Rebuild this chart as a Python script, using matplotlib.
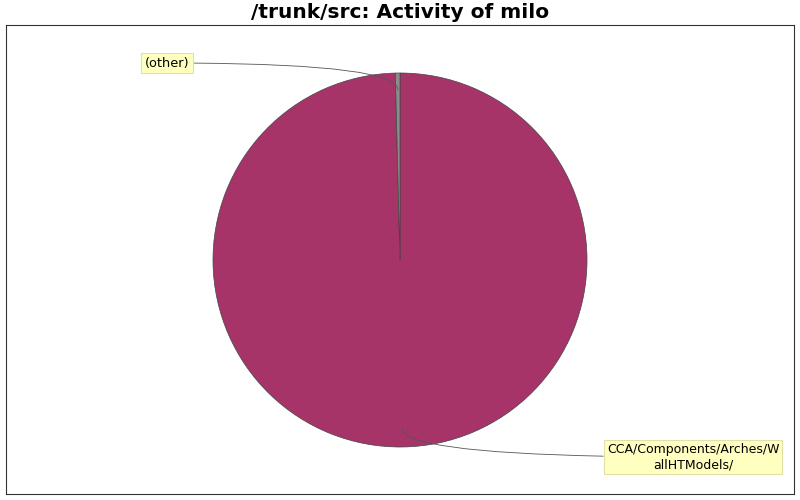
import matplotlib
matplotlib.use('Agg')
import matplotlib.pyplot as plt

labels = ['CCA/Components/Arches/W\nallHTModels/', '(other)']
values = [99.6, 0.4]
colors = ['#a63469', '#8c8c8c']

fig = plt.figure(figsize=(8, 5), dpi=100)
ax = fig.add_axes([6 / 800, 6 / 500, 788 / 800, 469 / 500])

radius = 187
wedges, _ = ax.pie(values, colors=colors, radius=radius, startangle=90,
                   counterclock=False, frame=True,
                   wedgeprops=dict(edgecolor='#444444', linewidth=0.5))
# data units are pixels, centre of pie at the origin
ax.set_xlim(-394, 394)
ax.set_ylim(-234, 235)
ax.set_xticks([])
ax.set_yticks([])
for s in ax.spines.values():
    s.set_color('#333333')
    s.set_linewidth(0.8)

box = dict(boxstyle='square,pad=0.25', facecolor='#ffffc0', edgecolor='#e0e0a8', linewidth=0.8)
line = dict(arrowstyle='-', color='#555555', linewidth=0.6,
            connectionstyle='angle3,angleA=0,angleB=90', shrinkA=0, shrinkB=0)

# main slice label
ax.annotate(labels[0], xy=(2, -168), xytext=(293, -197), ha='center', va='center',
            fontsize=9, bbox=box, multialignment='center', arrowprops=line)
# other slice label
ax.annotate(labels[1], xy=(-2, 170), xytext=(-233, 197), ha='center', va='center',
            fontsize=9.3, bbox=box, arrowprops=line)

fig.text(0.5, 1 - 18 / 500, '/trunk/src: Activity of milo', fontsize=14.5,
         fontweight='bold', ha='center', va='baseline')

fig.savefig('out.png', dpi=100)
